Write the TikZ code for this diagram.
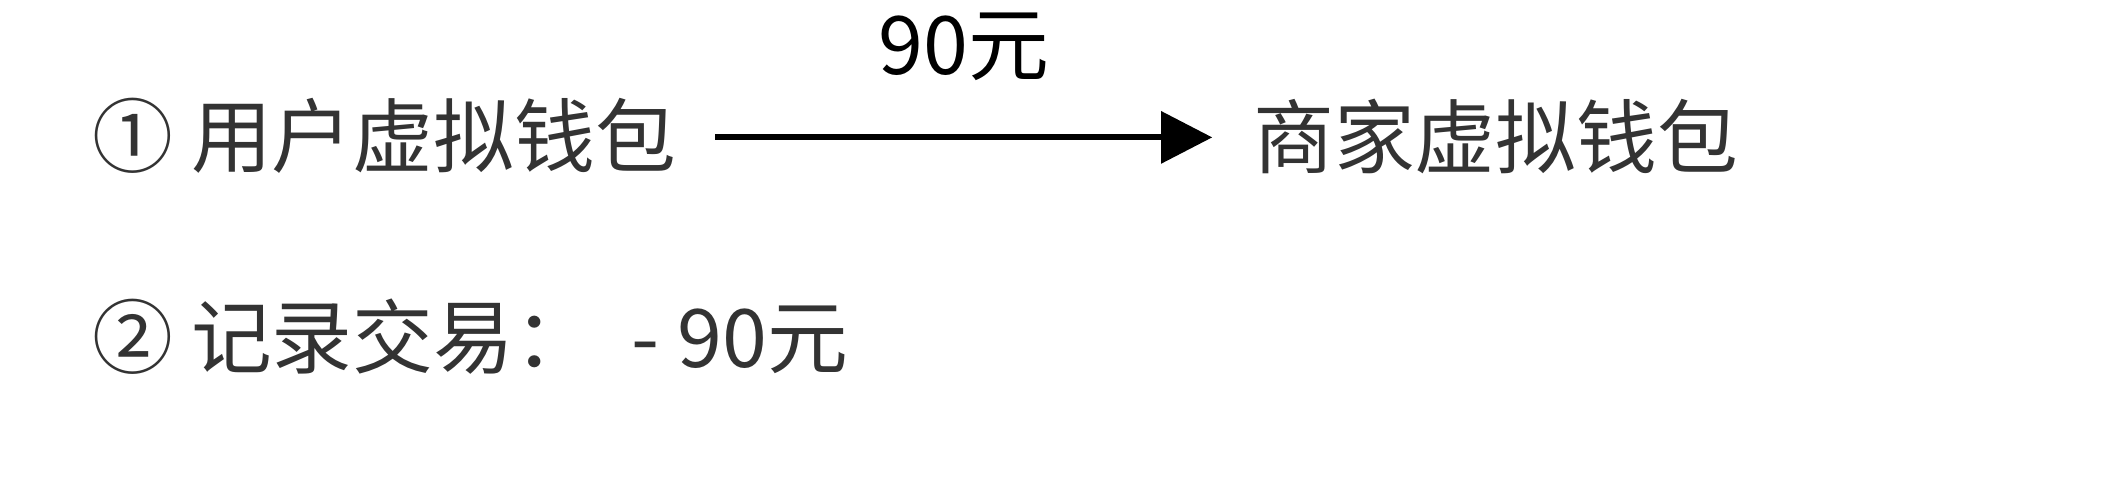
\documentclass[tikz,border=0pt]{standalone}
\usepackage{fontspec}
\setmainfont{Noto Sans CJK SC}
\usetikzlibrary{arrows.meta}
\definecolor{txt}{HTML}{333333}
\tikzset{lbl/.style={inner sep=0pt,font=\fontsize{30}{36}\selectfont,text=txt}}
\begin{document}
\begin{tikzpicture}[x=0.5pt,y=-0.5pt]
\useasboundingbox (0,0) rectangle (1568,373);
\node[lbl,anchor=west] (u) at (68,101) {① 用户虚拟钱包};
\node[lbl,anchor=west] (m) at (930,101) {商家虚拟钱包};
\node[lbl,anchor=west] (r) at (68,250) {② 记录交易：\ \ - 90元};
\coordinate (s) at (531,102);
\coordinate (e) at (900,102);
\draw[line width=2.2pt,-{Triangle[length=19pt,width=19pt]}] (s) -- node[lbl,text=black,above=20pt] {90元} (e);
\end{tikzpicture}
\end{document}
